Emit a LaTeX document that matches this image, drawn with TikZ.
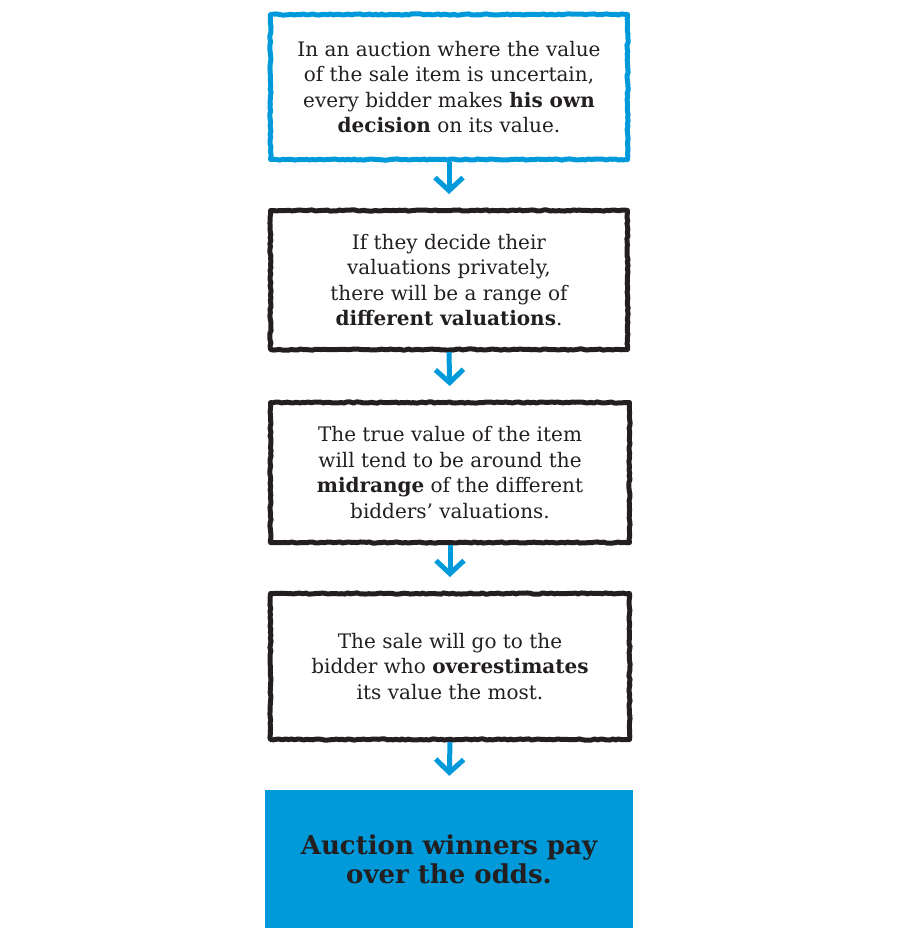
\documentclass[tikz,border=0pt]{standalone}
\usepackage{fontspec}
\setmainfont{DejaVu Serif}
\usetikzlibrary{arrows.meta,decorations.pathmorphing}
\definecolor{ablue}{RGB}{0,154,218}
\definecolor{ink}{RGB}{35,31,32}
\begin{document}
\begin{tikzpicture}[x=1pt,y=-1pt,
  sketchbox/.style={draw=ink, line width=5pt, line join=round, rectangle,
    decorate, decoration={random steps, segment length=3pt, amplitude=0.6pt},
    text=ink, align=center, font=\fontsize{20}{25.5}\selectfont, inner sep=0pt},
  bluebox/.style={sketchbox, draw=ablue},
  endbox/.style={rectangle, fill=ablue, text=ink, align=center,
    font=\fontsize{26}{29}\selectfont\bfseries, inner sep=0pt},
  flow/.style={draw=ablue, line width=5pt, -{Straight Barb[length=13pt,width=28pt,line width=5pt]},
    shorten >=14pt}
]
\useasboundingbox (0,0) rectangle (900,932);
\node[bluebox, minimum width=357pt, minimum height=145pt] (b1) at (449,87)
  {In an auction where the value\\of the sale item is uncertain,\\every bidder makes \textbf{his own}\\\textbf{decision} on its value.};
\node[sketchbox, minimum width=357pt, minimum height=139pt] (b2) at (449,280)
  {If they decide their\\valuations privately,\\there will be a range of\\\textbf{different valuations}.};
\node[sketchbox, minimum width=359pt, minimum height=140pt] (b3) at (450,472.5)
  {The true value of the item\\will tend to be around the\\\textbf{midrange} of the different\\bidders’ valuations.};
\node[sketchbox, minimum width=359pt, minimum height=146pt] (b4) at (450,666.5)
  {The sale will go to the\\bidder who \textbf{overestimates}\\its value the most.};
\node[endbox, minimum width=368pt, minimum height=138pt] (b5) at (449,859)
  {Auction winners pay\\over the odds.};
\draw[flow] (b1.south) -- (b2.north);
\draw[flow] (b2.south) -- (b3.north);
\draw[flow] (b3.south) -- (b4.north);
\draw[flow] (b4.south) -- (b5.north);
\end{tikzpicture}
\end{document}
